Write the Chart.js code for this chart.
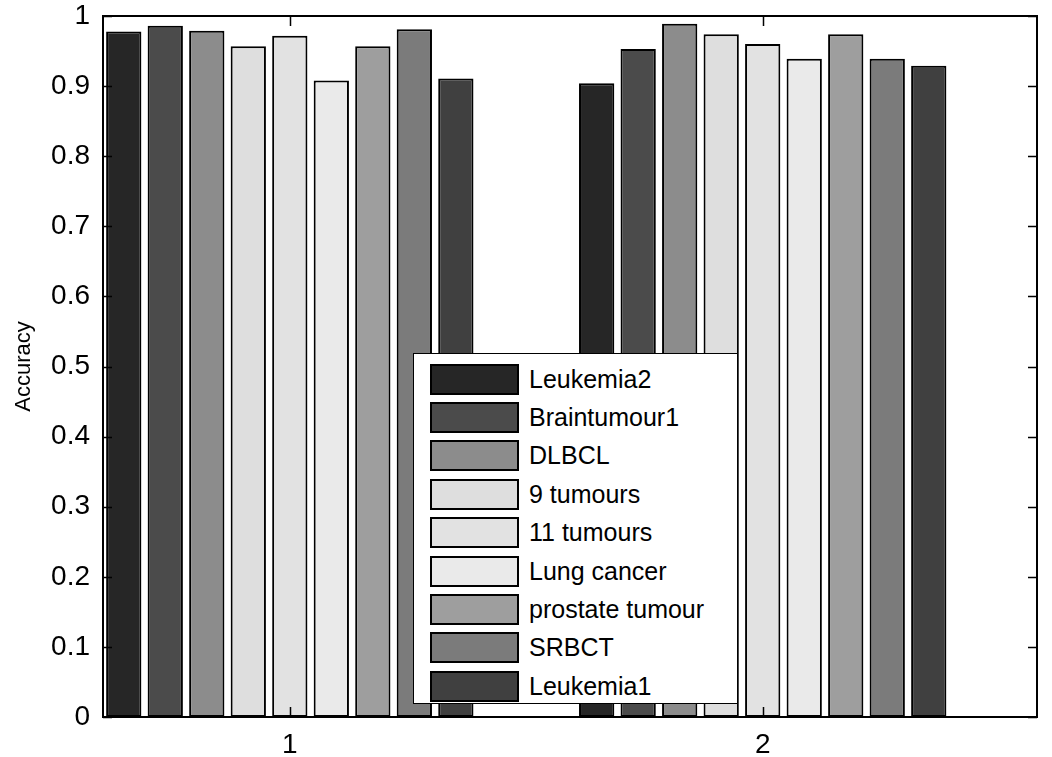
<!DOCTYPE html>
<html>
<head>
<meta charset="utf-8">
<script src="https://cdn.jsdelivr.net/npm/chart.js@4"></script>
<style>
  body { margin: 0; background: #fff; }
  #wrap { position: relative; width: 1052px; height: 757px; }
  #legend {
    position: absolute; left: 413px; top: 353px; width: 325px; height: 351px;
    border: 1.5px solid #000; background: #fff; box-sizing: border-box;
    font-family: 'Liberation Sans', Arial, sans-serif; font-size: 25px; color: #000;
    padding-top: 6px;
  }
  .legend-item { display: flex; align-items: center; height: 38.4px; }
  .legend-color { width: 89px; height: 31px; margin-left: 16px; margin-right: 10px;
    border: 2px solid #000; box-sizing: border-box; }
</style>
</head>
<body>
<div id="wrap">
  <canvas id="accChart" width="1052" height="757"></canvas>
  <div id="legend"></div>
</div>
<script>
const groups = [1, 2];
const xTicks = [1, 2];
const yTicks = [0, 0.1, 0.2, 0.3, 0.4, 0.5, 0.6, 0.7, 0.8, 0.9, 1];
const seriesNames = ['Leukemia2', 'Braintumour1', 'DLBCL', '9 tumours', '11 tumours',
    'Lung cancer', 'prostate tumour', 'SRBCT', 'Leukemia1'];
const seriesColors = ['#262626', '#4b4b4b', '#8c8c8c', '#dedede', '#e2e2e2',
    '#eaeaea', '#9e9e9e', '#7b7b7b', '#404040'];
// accuracy per series: [group 1, group 2]
const leukemia2 = [0.978, 0.904];
const braintumour1 = [0.986, 0.953];
const dlbcl = [0.979, 0.989];
const tumours9 = [0.957, 0.974];
const tumours11 = [0.972, 0.960];
const lungCancer = [0.908, 0.939];
const prostateTumour = [0.957, 0.974];
const srbct = [0.981, 0.939];
const leukemia1 = [0.911, 0.929];

const seriesValues = [leukemia2, braintumour1, dlbcl, tumours9, tumours11,
    lungCancer, prostateTumour, srbct, leukemia1];

Chart.defaults.font.family = "'Liberation Sans', Arial, sans-serif";
Chart.defaults.color = '#000';

// MATLAB-style box with inward tick marks
const frameTicks = {
    id: 'frameTicks',
    afterDraw(chart) {
        const { ctx, chartArea: a, scales: { x, y } } = chart;
        ctx.save();
        ctx.strokeStyle = '#000';
        ctx.lineWidth = 1.5;
        ctx.beginPath();
        yTicks.forEach(v => {
            const py = Math.round(y.getPixelForValue(v)) + 0.5;
            ctx.moveTo(a.left, py); ctx.lineTo(a.left + 9, py);
            ctx.moveTo(a.right, py); ctx.lineTo(a.right - 9, py);
        });
        xTicks.forEach(v => {
            const px = Math.round(x.getPixelForValue(v)) + 0.5;
            ctx.moveTo(px, a.top); ctx.lineTo(px, a.top + 10);
            ctx.moveTo(px, a.bottom); ctx.lineTo(px, a.bottom - 10);
        });
        ctx.stroke();
        ctx.lineWidth = 2;
        ctx.strokeRect(a.left, a.top, a.right - a.left, a.bottom - a.top);
        ctx.restore();
    }
};

const chart = new Chart(document.getElementById('accChart'), {
    type: 'bar',
    data: {
        datasets: seriesNames.map((name, i) => ({
            label: name,
            data: groups.map((g, j) => ({ x: g, y: seriesValues[i][j] })),
            backgroundColor: seriesColors[i],
            borderColor: '#000',
            borderWidth: 2,
            borderSkipped: false,
            categoryPercentage: 0.79,
            barPercentage: 0.85
        }))
    },
    options: {
        responsive: false,
        animation: false,
        layout: { padding: { top: 0, right: 15, left: 0, bottom: 0 } },
        plugins: { legend: { display: false }, tooltip: { enabled: false } },
        scales: {
            x: {
                type: 'linear',
                offset: false,
                min: 0.605,
                max: 2.58,
                grid: { display: false, drawTicks: false, offset: false },
                border: { display: false },
                afterBuildTicks: (scale) => { scale.ticks = xTicks.map(v => ({ value: v })); },
                afterFit: (scale) => { scale.height = 40; },
                ticks: { font: { size: 28 }, padding: 11, callback: (v) => String(v) }
            },
            y: {
                min: 0,
                max: 1,
                grid: { display: false, drawTicks: false },
                border: { display: false },
                afterBuildTicks: (scale) => { scale.ticks = yTicks.map(v => ({ value: v })); },
                afterFit: (scale) => { scale.width = 103; scale.paddingTop = 16; scale.paddingBottom = 16; },
                ticks: { font: { size: 28 }, padding: 13, callback: (v) => String(Math.round(v * 10) / 10) },
                title: { display: true, text: 'Accuracy', font: { size: 22 }, padding: { top: 11, bottom: 0 } }
            }
        }
    },
    plugins: [frameTicks]
});

document.getElementById('legend').innerHTML = chart.data.datasets.map(d => `
    <div class="legend-item">
        <div class="legend-color" style="background: ${d.backgroundColor}"></div>
        <span>${d.label}</span>
    </div>
`).join('');
</script>
</body>
</html>
